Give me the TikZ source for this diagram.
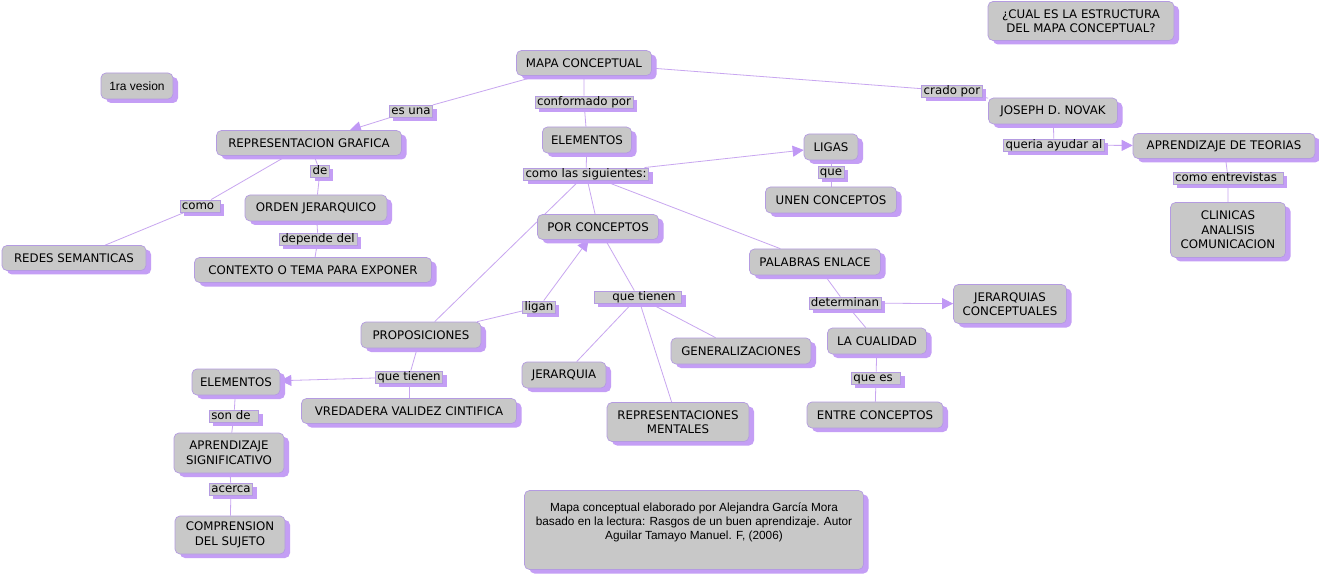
\documentclass[tikz,border=0pt]{standalone}
\usepackage{fontspec}
\setmainfont{DejaVu Sans}
\newfontfamily\footfont{Liberation Sans}
\usetikzlibrary{arrows.meta,shadows}
\pgfdeclarelayer{background}
\pgfsetlayers{background,main}
\definecolor{nodegray}{RGB}{200,200,200}
\definecolor{labelgray}{RGB}{204,204,204}
\definecolor{borderc}{RGB}{180,155,225}
\definecolor{shadowc}{RGB}{196,158,245}
\definecolor{linec}{RGB}{200,166,240}
\definecolor{arrowc}{RGB}{192,152,245}
\begin{document}
\begin{tikzpicture}[x=1pt,y=-1pt,
  concept/.style={rectangle, rounded corners=5pt, fill=nodegray, draw=borderc,
    line width=0.7pt, align=center, inner sep=1pt,
    font=\fontsize{11.8}{14.5}\selectfont,
    general shadow={fill=shadowc, shadow xshift=5pt, shadow yshift=-4pt}},
  lab/.style={rectangle, fill=labelgray, draw=borderc, line width=0.5pt,
    inner xsep=2pt, inner ysep=0.4pt, text height=9pt, text depth=2.6pt,
    font=\fontsize{11.8}{14}\selectfont,
    general shadow={fill=shadowc, shadow xshift=4pt, shadow yshift=-4pt}},
  conn/.style={draw=linec, line width=0.8pt},
  arr/.style={conn, -{Triangle[length=11pt,width=11pt,fill=arrowc,color=arrowc]}},
]
\useasboundingbox (0,0) rectangle (1319,577);

% concepts
\node[concept, minimum width=72pt, minimum height=26pt, font=\footfont\fontsize{12}{14}\selectfont] (vesion) at (137,86) {1ra vesion};
\node[concept, minimum width=135pt, minimum height=25pt] (mapa) at (584,63) {MAPA CONCEPTUAL};
\node[concept, minimum width=186pt, minimum height=39pt] (cual) at (1081,21) {¿CUAL ES LA ESTRUCTURA\\DEL MAPA CONCEPTUAL?};
\node[concept, minimum width=185pt, minimum height=25pt] (repr) at (309,143) {REPRESENTACION GRAFICA};
\node[concept, minimum width=89pt, minimum height=26pt] (elem) at (587,140) {ELEMENTOS};
\node[concept, minimum width=129pt, minimum height=26pt] (novak) at (1053,111) {JOSEPH D. NOVAK};
\node[concept, minimum width=182pt, minimum height=25pt] (teorias) at (1224,146) {APRENDIZAJE DE TEORIAS};
\node[concept, minimum width=115pt, minimum height=55pt] (clinicas) at (1228,230) {CLINICAS\\ANALISIS\\COMUNICACION};
\node[concept, minimum width=54pt, minimum height=26pt] (ligas) at (831,147) {LIGAS};
\node[concept, minimum width=131pt, minimum height=26pt] (unen) at (831,200) {UNEN CONCEPTOS};
\node[concept, minimum width=142pt, minimum height=26pt] (orden) at (316,208) {ORDEN JERARQUICO};
\node[concept, minimum width=237pt, minimum height=25pt] (contexto) at (313,270) {CONTEXTO O TEMA PARA EXPONER};
\node[concept, minimum width=144pt, minimum height=25pt] (redes) at (74,258) {REDES SEMANTICAS};
\node[concept, minimum width=121pt, minimum height=25pt] (porc) at (598,227) {POR CONCEPTOS};
\node[concept, minimum width=131pt, minimum height=26pt] (palabras) at (815,262) {PALABRAS ENLACE};
\node[concept, minimum width=120pt, minimum height=26pt] (props) at (421,335) {PROPOSICIONES};
\node[concept, minimum width=113pt, minimum height=39pt] (jerconc) at (1010,304) {JERARQUIAS\\CONCEPTUALES};
\node[concept, minimum width=99pt, minimum height=26pt] (cualidad) at (877,341) {LA CUALIDAD};
\node[concept, minimum width=136pt, minimum height=26pt] (entre) at (875,415) {ENTRE CONCEPTOS};
\node[concept, minimum width=140pt, minimum height=26pt] (general) at (741,351) {GENERALIZACIONES};
\node[concept, minimum width=84pt, minimum height=26pt] (jerarquia) at (564,375) {JERARQUIA};
\node[concept, minimum width=142pt, minimum height=39pt] (repment) at (678,422) {REPRESENTACIONES\\MENTALES};
\node[concept, minimum width=88pt, minimum height=26pt] (elem2) at (236,382) {ELEMENTOS};
\node[concept, minimum width=215pt, minimum height=25pt] (validez) at (409,411) {VREDADERA VALIDEZ CINTIFICA};
\node[concept, minimum width=110pt, minimum height=40pt] (aprsig) at (229,453) {APRENDIZAJE\\SIGNIFICATIVO};
\node[concept, minimum width=110pt, minimum height=38pt] (compr) at (230,535) {COMPRENSION\\DEL SUJETO};
\node[concept, minimum width=339pt, minimum height=79pt, font=\footfont\fontsize{11.8}{14}\selectfont] (foot) at (694,530)
  {Mapa conceptual elaborado por Alejandra García Mora\\basado en la lectura: Rasgos de un buen aprendizaje. Autor\\Aguilar Tamayo Manuel. F, (2006)\\\strut};

% labels
\node[lab] (esuna) at (411,111) {es una};
\node[lab] (conf) at (584,102) {conformado por};
\node[lab] (crado) at (952,91) {crado por};
\node[lab] (queria) at (1054,145) {queria ayudar al};
\node[lab] (entrev) at (1228,178) {como entrevistas\hspace*{4pt}};
\node[lab] (sig) at (586,174) {como las siguientes:};
\node[lab] (que) at (831,172) {que};
\node[lab] (de) at (320,171) {de};
\node[lab] (como) at (200,206) {como\hspace*{4pt}};
\node[lab] (depende) at (318,239) {depende del};
\node[lab] (ligan) at (539,307) {ligan};
\node[lab] (tienen1) at (638,297) {\hspace*{16pt}que tienen\hspace*{4pt}};
\node[lab] (determinan) at (845,303) {determinan};
\node[lab] (quees) at (876,378) {que es\hspace*{6pt}};
\node[lab] (tienen2) at (409,377) {que tienen};
\node[lab] (sonde) at (234,416) {son de\hspace*{6pt}};
\node[lab] (acerca) at (231,489) {acerca};

\begin{pgfonlayer}{background}
\fill[white] (0,0) rectangle (1319,577);
\draw[conn] (mapa) -- (esuna);
\draw[arr] (esuna) -- (repr);
\draw[conn] (mapa) -- (conf) -- (elem);
\draw[conn] (mapa) -- (crado) -- (novak);
\draw[conn] (novak) -- (queria);
\draw[arr] (queria) -- (teorias);
\draw[conn] (teorias) -- (entrev) -- (clinicas);
\draw[conn] (elem) -- (sig);
\draw[arr] (sig) -- (ligas);
\draw[conn] (ligas) -- (que) -- (unen);
\draw[conn] (sig) -- (porc);
\draw[conn] (sig) -- (palabras);
\draw[conn] (sig) -- (props);
\draw[conn] (repr) -- (de) -- (orden);
\draw[conn] (orden) -- (depende) -- (contexto);
\draw[conn] (repr) -- (como) -- (redes);
\draw[conn] (props) -- (ligan);
\draw[arr] (ligan) -- (porc);
\draw[conn] (porc) -- (tienen1);
\draw[conn] (tienen1) -- (jerarquia);
\draw[conn] (tienen1) -- (repment);
\draw[conn] (tienen1) -- (general);
\draw[conn] (palabras) -- (determinan) -- (cualidad);
\draw[arr] (determinan) -- (jerconc);
\draw[conn] (cualidad) -- (quees) -- (entre);
\draw[conn] (props) -- (tienen2);
\draw[arr] (tienen2) -- (elem2);
\draw[conn] (tienen2) -- (validez);
\draw[conn] (elem2) -- (sonde) -- (aprsig);
\draw[conn] (aprsig) -- (acerca) -- (compr);
\end{pgfonlayer}
\end{tikzpicture}
\end{document}
